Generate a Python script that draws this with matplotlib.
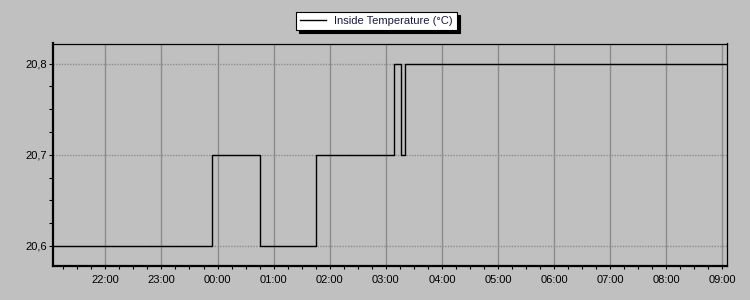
import matplotlib
matplotlib.use("Agg")
import matplotlib.pyplot as plt
import matplotlib.dates as mdates
from matplotlib.ticker import MultipleLocator, FuncFormatter
import pandas as pd

# ---- data ----
times = ["2024-01-01 21:04", "2024-01-01 23:54", "2024-01-02 00:45", "2024-01-02 01:45",
         "2024-01-02 03:09", "2024-01-02 03:16", "2024-01-02 03:21", "2024-01-02 09:05"]
temps = [20.6, 20.7, 20.6, 20.7, 20.8, 20.7, 20.8, 20.8]
series_label = "Inside Temperature (°C)"
y_ticks = [20.6, 20.7, 20.8]

t = pd.to_datetime(times)

plt.rcParams['font.family'] = ['Liberation Sans', 'DejaVu Sans']
bg = '#c0c0c0'
fig = plt.figure(figsize=(7.5, 3.0), dpi=100, facecolor=bg)
ax = fig.add_axes([53/750, 1-266/300, (727-53)/750, (266-43.5)/300])
ax.set_facecolor(bg)

ax.step(t, temps, where='post', color='black', lw=1.0, label=series_label, zorder=3)

ax.set_xlim(t[0], t[-1])
ax.set_ylim(20.578, 20.822)

ax.xaxis.set_major_locator(mdates.HourLocator())
ax.xaxis.set_major_formatter(mdates.DateFormatter('%H:%M'))
ax.xaxis.set_minor_locator(mdates.MinuteLocator(byminute=[15, 30, 45]))
ax.set_yticks(y_ticks)
ax.yaxis.set_minor_locator(MultipleLocator(0.025))
ax.yaxis.set_major_formatter(FuncFormatter(lambda v, p: f"{v:.1f}".replace('.', ',')))

ax.tick_params(axis='both', which='both', direction='out', colors='black', labelsize=8)
ax.tick_params(axis='y', which='major', length=3, width=0.8, pad=1.5)
ax.tick_params(axis='y', which='minor', length=3, width=0.8)
ax.tick_params(axis='x', which='major', length=2.5, width=0.8, pad=4)
ax.tick_params(axis='x', which='minor', length=2.5, width=0.8)

ax.grid(axis='x', which='major', color='#8c8c8c', lw=1.0, ls='-', zorder=1)
ax.grid(axis='y', which='major', color='#8c8c8c', lw=1.0, ls=(0, (1, 1)), zorder=1)
ax.set_axisbelow(True)

for s in ['left', 'bottom']:
    ax.spines[s].set_linewidth(1.6)
for s in ['top', 'right']:
    ax.spines[s].set_linewidth(0.9)
for s in ax.spines.values():
    s.set_color('black')

leg = fig.legend(loc='upper center', bbox_to_anchor=(0.502, 1-12/300), fontsize=8,
                 frameon=True, fancybox=False, edgecolor='black', facecolor='white',
                 framealpha=1, shadow={'color': 'black', 'alpha': 1},
                 handlelength=2.3, handletextpad=0.8, borderpad=0.35, borderaxespad=0)
leg.get_frame().set_linewidth(0.8)
for txt in leg.get_texts():
    txt.set_color('#1a1a40')

fig.savefig('out.png', dpi=100, facecolor=bg)
